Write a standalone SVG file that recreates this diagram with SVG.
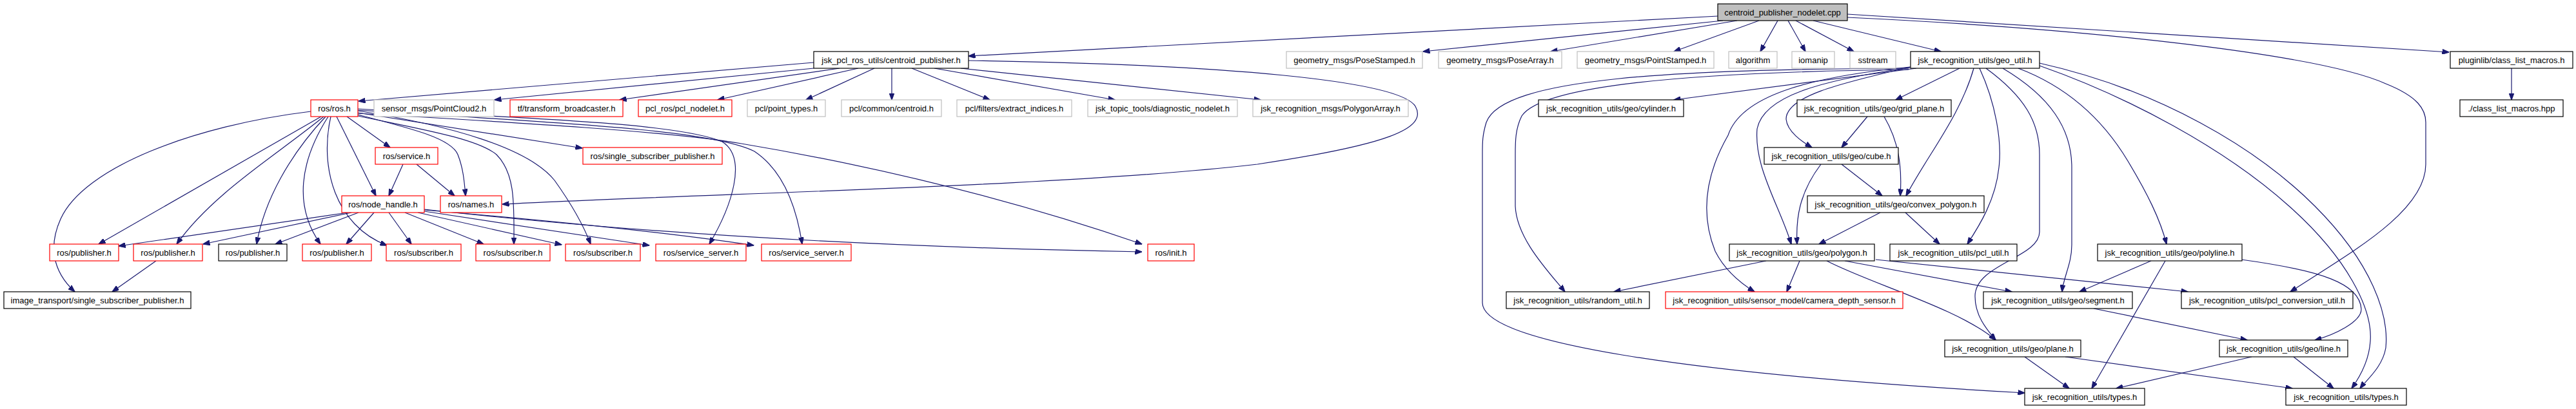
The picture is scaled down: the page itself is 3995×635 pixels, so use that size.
<svg xmlns="http://www.w3.org/2000/svg" width="3995" height="635" viewBox="0 0 3995 635">
<style>
.node rect{fill:#fff;stroke-width:1.2}
.k rect{stroke:#000}
.r rect{stroke:#f00}
.g rect{stroke:#bfbfbf}
.root rect{fill:#bfbfbf;stroke:#000}
.node text{font-family:"Liberation Sans",Arial,Helvetica,sans-serif;font-size:13px;fill:#000;text-anchor:middle}
.edges path{fill:none;stroke:#191970;stroke-width:1.2;marker-end:url(#ah)}
</style>
<defs>
<marker id="ah" markerWidth="11" markerHeight="8" refX="10.5" refY="4" orient="auto" markerUnits="userSpaceOnUse"><path d="M0,0L11,4L0,8z" fill="#191970" stroke="#191970" stroke-width="1"/></marker>
</defs>
<rect width="3995" height="635" fill="#fff"/>
<g class="edges" id="connectors">
<path d="M2664,25L1502,87"/>
<path d="M2672,32L2207,80"/>
<path d="M2694,32L2405,80"/>
<path d="M2728,32L2596,80"/>
<path d="M2757,32L2730,80"/>
<path d="M2773,32L2800,80"/>
<path d="M2785,32L2875,80"/>
<path d="M2812,32L3010,80"/>
<path d="M2865,22L3798,81"/>
<path d="M2865,27C3250,45 3600,85 3700,130C3750,150 3762,170 3762,190L3762,255C3762,330 3640,395 3552,453"/>
<path d="M1262,97L556,157"/>
<path d="M1262,106L767,155"/>
<path d="M1302,106L961,155"/>
<path d="M1331,106L1113,155"/>
<path d="M1356,106L1250,155"/>
<path d="M1383,106L1383,155"/>
<path d="M1414,106L1535,155"/>
<path d="M1449,106L1729,155"/>
<path d="M1490,106L1955,155"/>
<path d="M1502,94C1900,100 2170,125 2195,165C2215,200 2150,225 1950,255C1650,290 1100,300 779,317"/>
<path d="M482,173C300,195 130,260 94,340C76,380 80,420 116,453"/>
<path d="M498,181L153,379"/>
<path d="M502,181C430,240 330,300 274,379"/>
<path d="M505,181C450,240 410,310 398,379"/>
<path d="M509,181C465,250 455,320 497,379"/>
<path d="M513,181C495,260 520,350 600,381"/>
<path d="M522,181L583,304"/>
<path d="M538,181L605,229"/>
<path d="M555,178C640,200 700,215 710,240C718,260 720,280 722,304"/>
<path d="M555,175L903,230"/>
<path d="M555,176C800,190 1050,205 1150,223C1400,265 1600,320 1771,379"/>
<path d="M555,180C650,200 740,215 770,240C800,270 797,320 797,379"/>
<path d="M555,172C700,195 820,230 860,280C885,315 905,350 916,379"/>
<path d="M555,169C800,183 1050,190 1120,220C1160,245 1135,320 1100,379"/>
<path d="M555,171C850,190 1100,200 1170,235C1215,265 1235,320 1244,379"/>
<path d="M625,255L603,304"/>
<path d="M646,255L705,304"/>
<path d="M540,330L184,382"/>
<path d="M545,330L315,379"/>
<path d="M556,330L427,379"/>
<path d="M580,330L537,379"/>
<path d="M603,330L638,379"/>
<path d="M628,330L750,379"/>
<path d="M648,330L871,380"/>
<path d="M658,328L1007,381"/>
<path d="M658,326Q1000,355 1169,381"/>
<path d="M658,325Q1150,380 1771,391"/>
<path d="M242,405L174,453"/>
<path d="M2972,106L2596,155"/>
<path d="M3039,106L2940,155"/>
<path d="M2960,106C2600,108 2330,120 2305,190C2299,210 2299,220 2299,240L2299,470C2299,530 2600,580 3140,610"/>
<path d="M2960,108C2600,112 2390,135 2360,180C2350,200 2350,220 2350,240L2350,320C2352,370 2400,420 2427,453"/>
<path d="M2963,104C2850,130 2770,150 2770,185C2772,205 2795,220 2810,229"/>
<path d="M2962,105C2820,125 2735,150 2725,200C2720,260 2760,320 2778,379"/>
<path d="M2962,104C2800,120 2700,150 2680,210C2640,280 2640,340 2660,390C2675,420 2700,440 2721,453"/>
<path d="M3061,106C3040,180 2990,240 2956,304"/>
<path d="M3070,106C3095,160 3105,220 3100,260C3095,310 3070,350 3051,379"/>
<path d="M3080,106C3140,150 3163,190 3163,240L3163,360C3163,400 3063,410 3063,460C3063,490 3080,510 3095,528"/>
<path d="M3106,106C3180,150 3213,200 3213,260L3213,380C3213,410 3200,430 3198,453"/>
<path d="M3130,106C3220,140 3270,200 3300,250C3330,300 3350,340 3360,379"/>
<path d="M3163,102C3300,150 3450,230 3550,320C3640,400 3680,480 3676,530C3674,560 3660,585 3647,603"/>
<path d="M3163,98C3350,140 3500,230 3590,320C3680,410 3705,490 3700,540C3695,570 3670,590 3660,603"/>
<path d="M3476,403C3600,420 3660,440 3662,480C3662,500 3620,520 3590,528"/>
<path d="M2896,181L2856,229"/>
<path d="M2922,181C2945,220 2950,260 2947,304"/>
<path d="M2856,255L2919,304"/>
<path d="M2824,255C2790,300 2785,340 2787,379"/>
<path d="M2916,330L2821,379"/>
<path d="M2955,330L3008,379"/>
<path d="M2739,405L2503,453"/>
<path d="M2791,405L2771,453"/>
<path d="M2833,405C2900,440 3040,480 3095,528"/>
<path d="M2861,405L3120,453"/>
<path d="M2909,403L3393,453"/>
<path d="M3336,405L3225,453"/>
<path d="M3358,405L3244,603"/>
<path d="M3247,479L3485,528"/>
<path d="M3140,554L3209,603"/>
<path d="M3203,554L3555,603"/>
<path d="M3492,554L3282,603"/>
<path d="M3557,554L3619,603"/>
<path d="M3895,106L3895,155"/>
</g>
<g id="n0" class="node root"><rect x="2664" y="6" width="201" height="26"/><text x="2764.5" y="23.5">centroid_publisher_nodelet.cpp</text></g>
<g id="n1" class="node k"><rect x="1262" y="80" width="240" height="26"/><text x="1382" y="97.5">jsk_pcl_ros_utils/centroid_publisher.h</text></g>
<g id="n2" class="node g"><rect x="1995" y="80" width="211" height="26"/><text x="2100.5" y="97.5">geometry_msgs/PoseStamped.h</text></g>
<g id="n3" class="node g"><rect x="2231" y="80" width="191" height="26"/><text x="2326.5" y="97.5">geometry_msgs/PoseArray.h</text></g>
<g id="n4" class="node g"><rect x="2446" y="80" width="212" height="26"/><text x="2552" y="97.5">geometry_msgs/PointStamped.h</text></g>
<g id="n5" class="node g"><rect x="2681" y="80" width="75" height="26"/><text x="2718.5" y="97.5">algorithm</text></g>
<g id="n6" class="node g"><rect x="2779" y="80" width="66" height="26"/><text x="2812" y="97.5">iomanip</text></g>
<g id="n7" class="node g"><rect x="2869" y="80" width="71" height="26"/><text x="2904.5" y="97.5">sstream</text></g>
<g id="n8" class="node k"><rect x="2963" y="80" width="200" height="26"/><text x="3063" y="97.5">jsk_recognition_utils/geo_util.h</text></g>
<g id="n9" class="node k"><rect x="3800" y="80" width="190" height="26"/><text x="3895" y="97.5">pluginlib/class_list_macros.h</text></g>
<g id="n10" class="node r"><rect x="482" y="155" width="73" height="26"/><text x="518.5" y="172.5">ros/ros.h</text></g>
<g id="n11" class="node g"><rect x="580" y="155" width="186" height="26"/><text x="673" y="172.5">sensor_msgs/PointCloud2.h</text></g>
<g id="n12" class="node r"><rect x="791" y="155" width="175" height="26"/><text x="878.5" y="172.5">tf/transform_broadcaster.h</text></g>
<g id="n13" class="node r"><rect x="990" y="155" width="145" height="26"/><text x="1062.5" y="172.5">pcl_ros/pcl_nodelet.h</text></g>
<g id="n14" class="node g"><rect x="1159" y="155" width="121" height="26"/><text x="1219.5" y="172.5">pcl/point_types.h</text></g>
<g id="n15" class="node g"><rect x="1305" y="155" width="155" height="26"/><text x="1382.5" y="172.5">pcl/common/centroid.h</text></g>
<g id="n16" class="node g"><rect x="1484" y="155" width="178" height="26"/><text x="1573" y="172.5">pcl/filters/extract_indices.h</text></g>
<g id="n17" class="node g"><rect x="1687" y="155" width="232" height="26"/><text x="1803" y="172.5">jsk_topic_tools/diagnostic_nodelet.h</text></g>
<g id="n18" class="node g"><rect x="1943" y="155" width="241" height="26"/><text x="2063.5" y="172.5">jsk_recognition_msgs/PolygonArray.h</text></g>
<g id="n19" class="node k"><rect x="2386" y="155" width="225" height="26"/><text x="2498.5" y="172.5">jsk_recognition_utils/geo/cylinder.h</text></g>
<g id="n20" class="node k"><rect x="2787" y="155" width="239" height="26"/><text x="2906.5" y="172.5">jsk_recognition_utils/geo/grid_plane.h</text></g>
<g id="n21" class="node k"><rect x="3815" y="155" width="160" height="26"/><text x="3895" y="172.5">./class_list_macros.hpp</text></g>
<g id="n22" class="node r"><rect x="582" y="229" width="97" height="26"/><text x="630.5" y="246.5">ros/service.h</text></g>
<g id="n23" class="node r"><rect x="904" y="229" width="216" height="26"/><text x="1012" y="246.5">ros/single_subscriber_publisher.h</text></g>
<g id="n24" class="node k"><rect x="2736" y="229" width="208" height="26"/><text x="2840" y="246.5">jsk_recognition_utils/geo/cube.h</text></g>
<g id="n25" class="node r"><rect x="530" y="304" width="128" height="26"/><text x="594" y="321.5">ros/node_handle.h</text></g>
<g id="n26" class="node r"><rect x="683" y="304" width="95" height="26"/><text x="730.5" y="321.5">ros/names.h</text></g>
<g id="n27" class="node k"><rect x="2803" y="304" width="274" height="26"/><text x="2940" y="321.5">jsk_recognition_utils/geo/convex_polygon.h</text></g>
<g id="n28" class="node r"><rect x="77" y="379" width="107" height="26"/><text x="130.5" y="396.5">ros/publisher.h</text></g>
<g id="n29" class="node r"><rect x="207" y="379" width="107" height="26"/><text x="260.5" y="396.5">ros/publisher.h</text></g>
<g id="n30" class="node k"><rect x="339" y="379" width="106" height="26"/><text x="392" y="396.5">ros/publisher.h</text></g>
<g id="n31" class="node r"><rect x="469" y="379" width="107" height="26"/><text x="522.5" y="396.5">ros/publisher.h</text></g>
<g id="n32" class="node r"><rect x="599" y="379" width="116" height="26"/><text x="657" y="396.5">ros/subscriber.h</text></g>
<g id="n33" class="node r"><rect x="738" y="379" width="115" height="26"/><text x="795.5" y="396.5">ros/subscriber.h</text></g>
<g id="n34" class="node r"><rect x="877" y="379" width="116" height="26"/><text x="935" y="396.5">ros/subscriber.h</text></g>
<g id="n35" class="node r"><rect x="1017" y="379" width="140" height="26"/><text x="1087" y="396.5">ros/service_server.h</text></g>
<g id="n36" class="node r"><rect x="1181" y="379" width="139" height="26"/><text x="1250.5" y="396.5">ros/service_server.h</text></g>
<g id="n37" class="node r"><rect x="1780" y="379" width="72" height="26"/><text x="1816" y="396.5">ros/init.h</text></g>
<g id="n38" class="node k"><rect x="2682" y="379" width="225" height="26"/><text x="2794.5" y="396.5">jsk_recognition_utils/geo/polygon.h</text></g>
<g id="n39" class="node k"><rect x="2931" y="379" width="197" height="26"/><text x="3029.5" y="396.5">jsk_recognition_utils/pcl_util.h</text></g>
<g id="n40" class="node k"><rect x="3253" y="379" width="224" height="26"/><text x="3365" y="396.5">jsk_recognition_utils/geo/polyline.h</text></g>
<g id="n41" class="node k"><rect x="6" y="453" width="290" height="26"/><text x="151" y="470.5">image_transport/single_subscriber_publisher.h</text></g>
<g id="n42" class="node k"><rect x="2336" y="453" width="222" height="26"/><text x="2447" y="470.5">jsk_recognition_utils/random_util.h</text></g>
<g id="n43" class="node r"><rect x="2583" y="453" width="368" height="26"/><text x="2767" y="470.5">jsk_recognition_utils/sensor_model/camera_depth_sensor.h</text></g>
<g id="n44" class="node k"><rect x="3076" y="453" width="231" height="26"/><text x="3191.5" y="470.5">jsk_recognition_utils/geo/segment.h</text></g>
<g id="n45" class="node k"><rect x="3383" y="453" width="266" height="26"/><text x="3516" y="470.5">jsk_recognition_utils/pcl_conversion_util.h</text></g>
<g id="n46" class="node k"><rect x="3016" y="528" width="211" height="26"/><text x="3121.5" y="545.5">jsk_recognition_utils/geo/plane.h</text></g>
<g id="n47" class="node k"><rect x="3442" y="528" width="199" height="26"/><text x="3541.5" y="545.5">jsk_recognition_utils/geo/line.h</text></g>
<g id="n48" class="node k"><rect x="3140" y="603" width="186" height="26"/><text x="3233" y="620.5">jsk_recognition_utils/types.h</text></g>
<g id="n49" class="node k"><rect x="3545" y="603" width="187" height="26"/><text x="3638.5" y="620.5">jsk_recognition_utils/types.h</text></g>
</svg>
